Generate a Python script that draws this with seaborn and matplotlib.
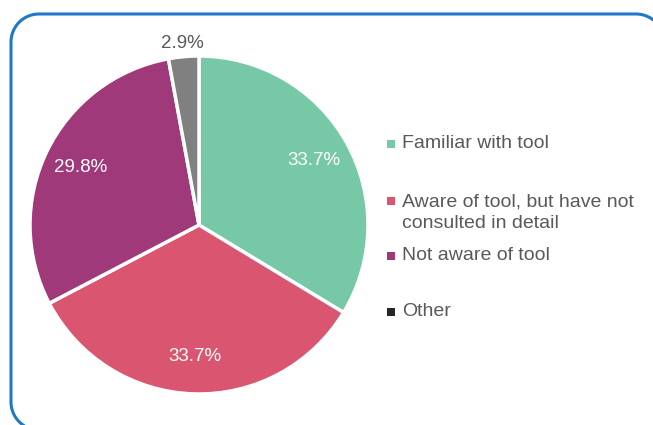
import matplotlib
matplotlib.use("Agg")
import numpy as np
import matplotlib.pyplot as plt
import seaborn as sns
from matplotlib.patches import Rectangle

# data
categories = ["Familiar with tool",
              "Aware of tool, but have not\nconsulted in detail",
              "Not aware of tool",
              "Other"]
shares = [33.7, 33.7, 29.8, 2.9]
slice_colors = ["#76C8A6", "#DA5670", "#A0397A", "#808080"]
legend_colors = ["#76C8A6", "#DA5670", "#A0397A", "#262626"]

sns.set_theme(style="white")
plt.rcParams["font.family"] = ["Liberation Sans", "DejaVu Sans"]

W, H = 653, 425
fig = plt.figure(figsize=(W / 100, H / 100), dpi=100)

# overlay axes in pixel units (y down) for frame and legend
bg = fig.add_axes([0, 0, 1, 1])
bg.set_xlim(0, W)
bg.set_ylim(H, 0)
bg.axis("off")


def arc(xc, yc, rad, a0, a1):
    t = np.radians(np.linspace(a0, a1, 30))
    return xc + rad * np.cos(t), yc - rad * np.sin(t)


# rounded frame, open polyline so the off-canvas part just gets clipped
L, T, R, B, rc = 11, 14, 664, 430, 28
xs, ys = [R], [B - rc]
for xc, yc, a0, a1 in [(R - rc, T + rc, 0, 90), (L + rc, T + rc, 90, 180),
                       (L + rc, B - rc, 180, 270)]:
    ax_, ay_ = arc(xc, yc, rc, a0, a1)
    xs.extend(ax_)
    ys.extend(ay_)
xs.append(R - rc)
ys.append(B)
bg.plot(xs, ys, color="#1F78C8", lw=2.2, solid_capstyle="butt")

# pie: centre (199, 225) px, radius 169 px
cx, cy, r = 199, 225, 169
ax = fig.add_axes([(cx - r) / W, (H - cy - r) / H, 2 * r / W, 2 * r / H])
wedges, texts, autotexts = ax.pie(
    shares, colors=slice_colors, startangle=90, counterclock=False,
    autopct="%.1f%%", pctdistance=0.78,
    wedgeprops=dict(edgecolor="white", linewidth=2.5),
    textprops=dict(color="white", fontsize=13.5))
ax.set_xlim(-1, 1)
ax.set_ylim(-1, 1)
ax.axis("off")

# the small slice keeps its label outside
x, y = autotexts[-1].get_position()
autotexts[-1].set_position((x * 1.38, y * 1.38))
autotexts[-1].set_color("#595959")

# legend drawn by hand to follow the original spacing
legend_rows = [144, 201, 256, 312]
for lab, col, ry in zip(categories, legend_colors, legend_rows):
    bg.add_patch(Rectangle((387, ry - 4), 8, 8, facecolor=col, edgecolor="none"))
    if "\n" in lab:
        bg.text(402, ry - 8, lab, fontsize=14, color="#595959",
                va="top", ha="left", linespacing=1.35)
    else:
        bg.text(402, ry, lab, fontsize=14, color="#595959",
                va="center", ha="left")

fig.savefig("out.png", dpi=100)
